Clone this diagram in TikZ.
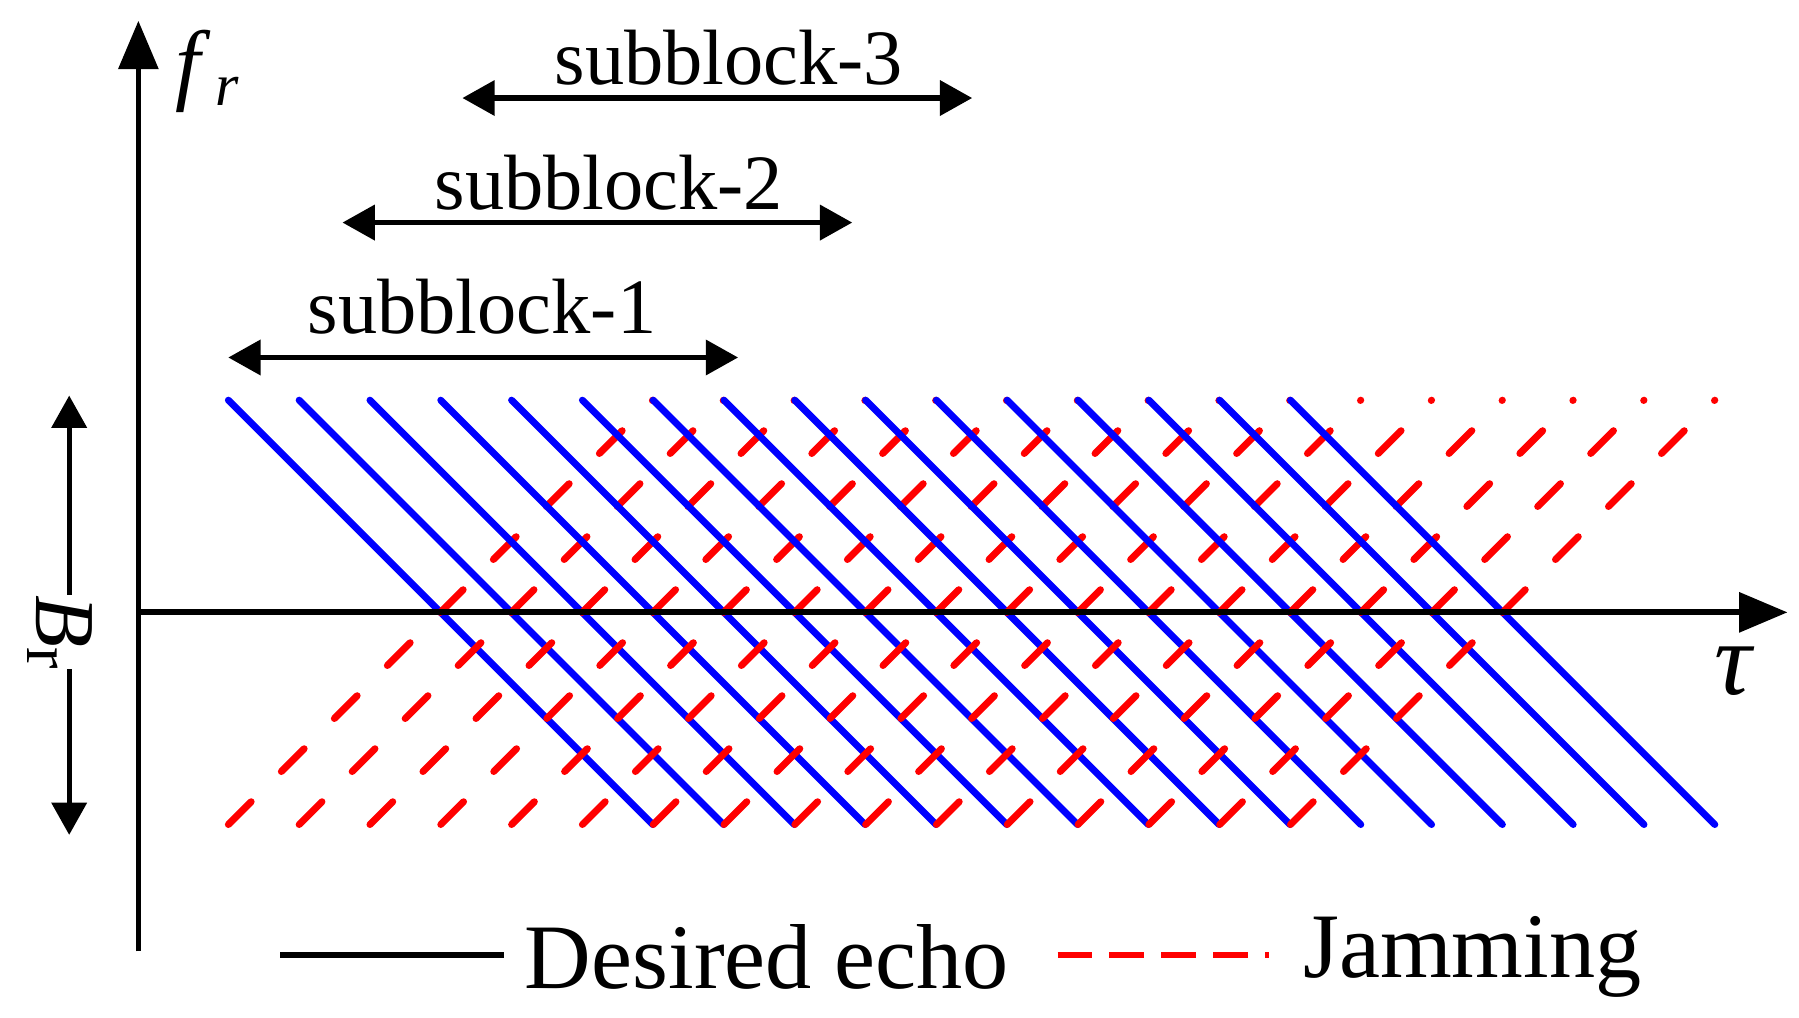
\documentclass[tikz,border=0pt]{standalone}
\usepackage{fontspec}
\setmainfont{Liberation Serif}
\usetikzlibrary{arrows.meta}
\begin{document}
\begin{tikzpicture}[x=1pt,y=-1pt,
  ax/.style={line width=5pt,-{Triangle[length=42pt,width=34pt]}},
  dbl/.style={line width=4.5pt,{Triangle[length=28pt,width=30pt]}-{Triangle[length=28pt,width=30pt]}},
  echo/.style={blue,line width=6pt,line cap=round},
  jam/.style={red,line width=6pt,line cap=round,dash pattern=on 28pt off 37pt},
  lbl/.style={font=\fontsize{68}{70}\selectfont,inner sep=0pt}]
\useasboundingbox (0,0) rectangle (1560,882);
% lines
\foreach \k in {0,...,15}{
  \pgfmathsetmacro{\xs}{198+61.4*\k}
  \coordinate (bt\k) at (\xs,347);
  \coordinate (bb\k) at (\xs+368,715);
  \coordinate (rb\k) at (\xs,715);
  \coordinate (rt\k) at (\xs+368,347);
  \draw[echo] (bt\k) -- (bb\k);
  \draw[jam] (rb\k) -- (rt\k);
}
% axes
\coordinate (o1) at (120,825); \coordinate (o2) at (120,18);
\draw[ax] (o1) -- (o2);
\coordinate (x1) at (120,531); \coordinate (x2) at (1550,531);
\draw[ax] (x1) -- (x2);
\node[lbl,font=\fontsize{78}{80}\selectfont\itshape] (fr) at (180,62) {f\,\raisebox{-0.3ex}{\fontsize{52}{54}\selectfont r}};
\node[lbl,font=\fontsize{90}{90}\selectfont\itshape] (tau) at (1503,582) {τ};
% subblocks
\coordinate (s1a) at (198,310); \coordinate (s1b) at (640,310);
\draw[dbl] (s1a) -- (s1b);
\node[lbl] (t1) at (418,266) {subblock-1};
\coordinate (s2a) at (297,193); \coordinate (s2b) at (739,193);
\draw[dbl] (s2a) -- (s2b);
\node[lbl] (t2) at (528,158) {subblock-2};
\coordinate (s3a) at (401,85); \coordinate (s3b) at (843,85);
\draw[dbl] (s3a) -- (s3b);
\node[lbl] (t3) at (632,50) {subblock-3};
% Br
\coordinate (b1) at (60,343); \coordinate (b2) at (60,724);
\draw[dbl] (b1) -- (b2);
\node[lbl,fill=white,rotate=-90,inner ysep=4pt,font=\fontsize{74}{76}\selectfont] (br) at (52,548) {\textit{B}\raisebox{-0.25ex}{\fontsize{56}{58}\selectfont r}};
% legend
\coordinate (l1) at (243,828); \coordinate (l2) at (437,828);
\draw[line width=5pt] (l1) -- (l2);
\node[lbl,anchor=west,font=\fontsize{80}{82}\selectfont] (le) at (455,830) {Desired echo};
\coordinate (l3) at (917,828); \coordinate (l4) at (1100,828);
\draw[red,line width=5pt,dash pattern=on 30pt off 15pt] (l3) -- (l4);
\node[lbl,anchor=west,font=\fontsize{80}{82}\selectfont] (lj) at (1130,830) {Jamming};
\end{tikzpicture}
\end{document}
